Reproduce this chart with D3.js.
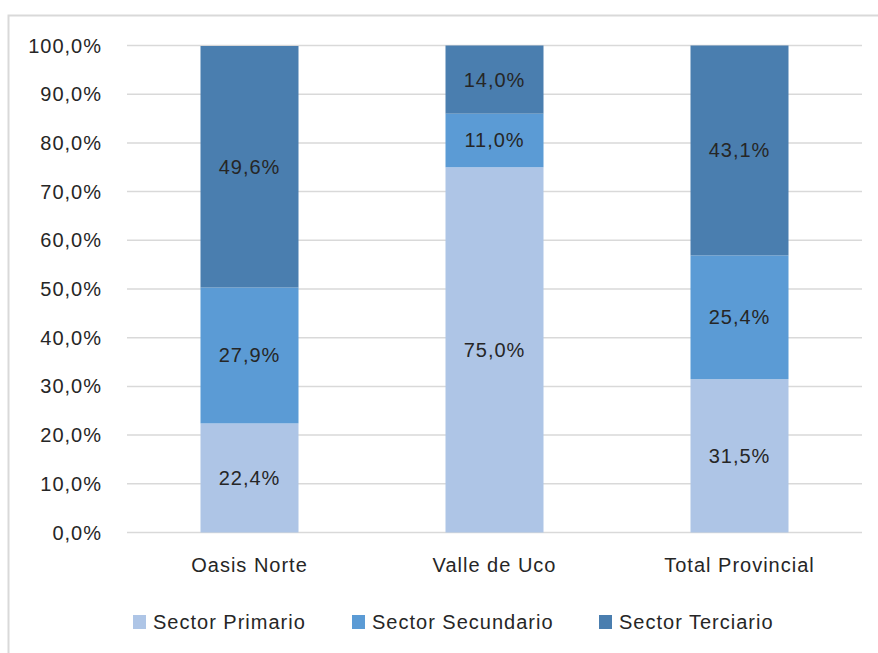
<!DOCTYPE html>
<meta charset="utf-8">
<style>
    body {
        margin: 0;
        background-color: #fff;
    }
    text {
        font-family: "Liberation Sans", Arial, sans-serif;
        font-size: 20px;
        letter-spacing: 1px;
        fill: #262626;
    }
    .grid line {
        stroke: #d9d9d9;
        stroke-width: 1.5px;
    }
</style>
<body>
<svg width="878" height="653"></svg>
<script src="https://d3js.org/d3.v7.min.js"></script>
<script>
    var categories = ["Oasis Norte", "Valle de Uco", "Total Provincial"];
    var seriesNames = ["Sector Primario", "Sector Secundario", "Sector Terciario"];
    var primario = [22.4, 75.0, 31.5];
    var secundario = [27.9, 11.0, 25.4];
    var terciario = [49.6, 14.0, 43.1];
    var yTicks = [0, 10, 20, 30, 40, 50, 60, 70, 80, 90, 100];
    var colors = ["#aec5e6", "#5b9bd5", "#4a7eaf"];

    var svg = d3.select("svg");

    // chart frame
    svg.append("rect")
        .attr("x", 8.5)
        .attr("y", 15.5)
        .attr("width", 900)
        .attr("height", 700)
        .attr("fill", "none")
        .attr("stroke", "#d9d9d9")
        .attr("stroke-width", 2);

    var x = d3.scaleBand()
        .domain(categories)
        .range([127, 862])
        .paddingInner(0.6)
        .paddingOuter(0.3);

    var y = d3.scaleLinear()
        .domain([0, 100])
        .range([532.5, 45.5]);

    var fmt = function(v) { return v.toFixed(1).replace(".", ",") + "%"; };

    // gridlines
    svg.append("g")
        .attr("class", "grid")
        .selectAll("line")
        .data(yTicks)
        .enter().append("line")
        .attr("x1", 127)
        .attr("x2", 862)
        .attr("y1", function(d) { return y(d); })
        .attr("y2", function(d) { return y(d); });

    // y labels
    svg.append("g")
        .selectAll("text")
        .data(yTicks)
        .enter().append("text")
        .attr("x", 102)
        .attr("y", function(d) { return y(d); })
        .attr("dy", "0.35em")
        .attr("text-anchor", "end")
        .text(fmt);

    // stacked data
    var rows = categories.map(function(c, i) {
        return {cat: c, s0: primario[i], s1: secundario[i], s2: terciario[i]};
    });
    var stack = d3.stack().keys(["s0", "s1", "s2"]);
    var layers = stack(rows);

    var layer = svg.selectAll(".layer")
        .data(layers)
        .enter().append("g")
        .attr("class", "layer")
        .attr("fill", function(d, i) { return colors[i]; });

    layer.selectAll("rect")
        .data(function(d) { return d; })
        .enter().append("rect")
        .attr("x", function(d) { return x(d.data.cat); })
        .attr("width", x.bandwidth())
        .attr("y", function(d) { return y(d[1]); })
        .attr("height", function(d) { return y(d[0]) - y(d[1]); });

    layer.selectAll("text")
        .data(function(d) { return d; })
        .enter().append("text")
        .attr("x", function(d) { return x(d.data.cat) + x.bandwidth() / 2; })
        .attr("y", function(d) { return (y(d[0]) + y(d[1])) / 2; })
        .attr("dy", "0.35em")
        .attr("text-anchor", "middle")
        .text(function(d) { return fmt(d[1] - d[0]); });

    // category labels
    svg.append("g")
        .selectAll("text")
        .data(categories)
        .enter().append("text")
        .attr("x", function(d) { return x(d) + x.bandwidth() / 2; })
        .attr("y", 565)
        .attr("dy", "0.35em")
        .attr("text-anchor", "middle")
        .text(function(d) { return d; });

    // legend
    var legendX = [133, 352, 599];
    var legend = svg.append("g")
        .selectAll("g")
        .data(seriesNames)
        .enter().append("g")
        .attr("transform", function(d, i) { return "translate(" + legendX[i] + ",615)"; });

    legend.append("rect")
        .attr("width", 13)
        .attr("height", 14)
        .attr("fill", function(d, i) { return colors[i]; });

    legend.append("text")
        .attr("x", 20)
        .attr("y", 7)
        .attr("dy", "0.35em")
        .text(function(d) { return d; });
</script>
